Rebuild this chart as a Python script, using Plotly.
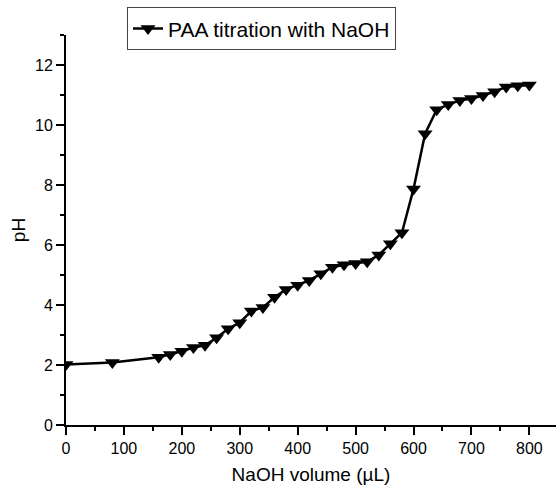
import plotly.graph_objects as go

naoh_volume = [0, 80, 160, 180, 200, 220, 240, 260, 280, 300, 320, 340, 360, 380, 400,
               420, 440, 460, 480, 500, 520, 540, 560, 580, 600, 620, 640, 660, 680, 700,
               720, 740, 760, 780, 800]
ph_values = [2.02, 2.08, 2.26, 2.35, 2.46, 2.58, 2.66, 2.91, 3.21, 3.41, 3.80, 3.92, 4.26,
             4.52, 4.66, 4.82, 5.04, 5.26, 5.34, 5.38, 5.44, 5.67, 6.04, 6.41, 7.87, 9.71,
             10.51, 10.68, 10.82, 10.88, 10.98, 11.11, 11.27, 11.31, 11.33]
series_name = "PAA titration with NaOH"
x_title = "NaOH volume (µL)"
y_title = "pH"

FONT = "Arial, Liberation Sans, sans-serif"

fig = go.Figure()
fig.add_trace(go.Scatter(
    x=naoh_volume, y=ph_values, mode="lines+markers", name=series_name,
    line=dict(color="black", width=2.5),
    marker=dict(symbol="triangle-down", size=13, color="black"),
))

axis_common = dict(
    showline=True, linecolor="black", linewidth=2, mirror=False,
    ticks="outside", ticklen=8, tickwidth=2, tickcolor="black",
    showgrid=False, zeroline=False,
    tickfont=dict(family=FONT, size=16, color="black"),
)

fig.update_layout(
    width=556, height=485,
    margin=dict(l=66, r=0, t=35, b=60),
    plot_bgcolor="white", paper_bgcolor="white",
    font=dict(family=FONT, color="black"),
    showlegend=True,
    legend=dict(
        x=0.1245, y=1.071, xanchor="left", yanchor="top",
        bgcolor="white", bordercolor="#444", borderwidth=1,
        font=dict(family=FONT, size=21, color="black"),
        tracegroupgap=0,
    ),
    xaxis=dict(
        range=[0, 846], dtick=100, tick0=0,
        title=dict(text=x_title, font=dict(family=FONT, size=19, color="black"), standoff=14),
        minor=dict(dtick=50, ticks="outside", ticklen=4, tickwidth=2, tickcolor="black"),
        **axis_common,
    ),
    yaxis=dict(
        range=[0, 13], dtick=2, tick0=0,
        title=dict(text=y_title, font=dict(family=FONT, size=19, color="black"), standoff=4),
        minor=dict(dtick=1, ticks="outside", ticklen=4, tickwidth=2, tickcolor="black"),
        **axis_common,
    ),
)

fig.write_html("out.html")
